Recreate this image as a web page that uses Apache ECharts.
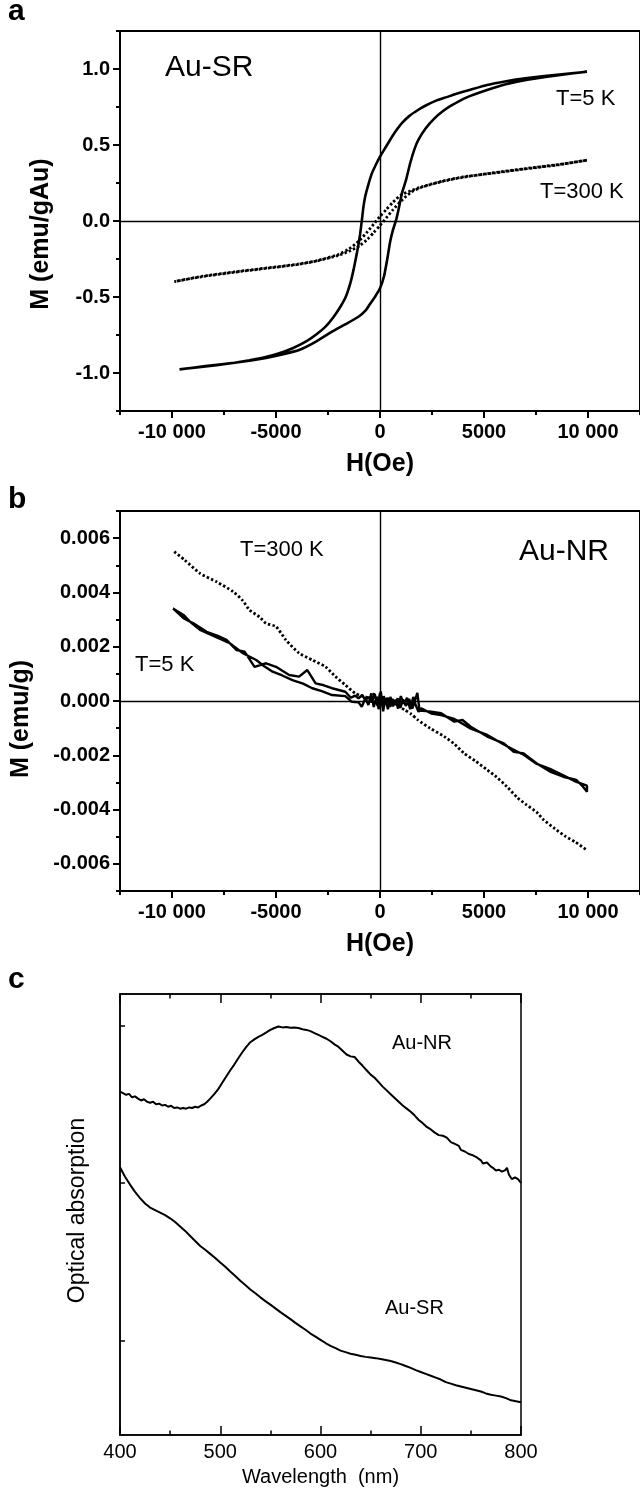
<!DOCTYPE html>
<html>
<head>
<meta charset="utf-8">
<script src="https://cdn.jsdelivr.net/npm/echarts@6/dist/echarts.min.js"></script>
<style>
html,body{margin:0;padding:0;background:#fff;}
#chart{width:640px;height:1488px;}
</style>
</head>
<body>
<div id="chart"></div>
<script>
// ---------- tick values / labels ----------
const hTickVals = [-10000, -5000, 0, 5000, 10000];
const hTickLabels = ['-10 000', '-5000', '0', '5000', '10 000'];
const hMinorVals = [-12500, -7500, -2500, 2500, 7500, 12500];
const mSRTickVals = [-1, -0.5, 0, 0.5, 1];
const mSRTickLabels = ['-1.0', '-0.5', '0.0', '0.5', '1.0'];
const mSRMinorVals = [-1.25, -0.75, -0.25, 0.25, 0.75, 1.25];
const mNRTickVals = [-0.006, -0.004, -0.002, 0, 0.002, 0.004, 0.006];
const mNRTickLabels = ['-0.006', '-0.004', '-0.002', '0.000', '0.002', '0.004', '0.006'];
const mNRMinorVals = [-0.007, -0.005, -0.003, -0.001, 0.001, 0.003, 0.005, 0.007];
const absTickVals = [0.3, 0.8, 1.3];
const zeroLines = [0, 0];

// ---------- panel a: Au-SR, M vs H ----------
const srT5 = [
 [9950,0.982],[8500,0.962],[7090,0.940],[6000,0.918],[5148,0.895],[4300,0.862],[3600,0.834],[3205,0.815],
 [2700,0.792],[2200,0.760],[1843,0.732],[1400,0.690],[1062,0.645],[700,0.580],[483,0.533],[250,0.480],
 [0,0.423],[-200,0.370],[-400,0.310],[-580,0.230],[-714,0.160],[-800,0.090],[-876,0],[-960,-0.090],
 [-1040,-0.160],[-1114,-0.213],[-1270,-0.320],[-1429,-0.410],[-1650,-0.500],[-1905,-0.564],[-2250,-0.635],
 [-2619,-0.695],[-3100,-0.750],[-3571,-0.794],[-4200,-0.837],[-4843,-0.870],[-5500,-0.895],[-6271,-0.916],
 [-7000,-0.932],[-7857,-0.948],[-8700,-0.962],[-9640,-0.976],
 [-8400,-0.955],[-7064,-0.934],[-6200,-0.918],[-5476,-0.901],[-4700,-0.878],[-3890,-0.849],[-3100,-0.795],
 [-2305,-0.728],[-1700,-0.682],[-1033,-0.630],[-700,-0.590],[-500,-0.550],[-238,-0.498],[0,-0.443],
 [200,-0.360],[350,-0.250],[483,-0.140],[620,-0.060],[776,0.007],[900,0.080],[1050,0.180],[1252,0.270],
 [1450,0.380],[1650,0.470],[1843,0.533],[2200,0.610],[2619,0.675],[3000,0.720],[3395,0.757],[4200,0.815],
 [5148,0.862],[6000,0.898],[7090,0.930],[8500,0.958],[9950,0.982]
];
const srT300 = [
 [9950,0.400],[8600,0.370],[7000,0.343],[5500,0.316],[4000,0.290],[3000,0.262],[2000,0.225],[1500,0.200],
 [1000,0.170],[600,0.120],[300,0.075],[0,0.030],[-300,-0.020],[-600,-0.070],[-1000,-0.130],[-1500,-0.185],
 [-2000,-0.220],[-3000,-0.260],[-4000,-0.285],[-5500,-0.310],[-7000,-0.335],[-8600,-0.365],[-9890,-0.399],
 [-8600,-0.367],[-7000,-0.337],[-5500,-0.312],[-4000,-0.287],[-3000,-0.262],[-2000,-0.226],[-1500,-0.200],
 [-1000,-0.165],[-600,-0.120],[-300,-0.075],[0,-0.030],[300,0.020],[600,0.070],[1000,0.130],[1500,0.190],
 [2000,0.222],[3000,0.260],[4000,0.288],[5500,0.318],[7000,0.345],[8600,0.372],[9950,0.400]
];

// ---------- panel b: Au-NR, M vs H ----------
const nrT5 = [
 [-9952,0.00341],[-9448,0.00305],[-8971,0.00286],[-8333,0.00255],[-7800,0.00240],[-7381,0.00225],[-6905,0.00188],
 [-6510,0.00182],[-6033,0.00126],[-5476,0.00139],[-5000,0.00126],[-4367,0.00096],[-3890,0.00090],[-3495,0.00114],
 [-3095,0.00065],[-2700,0.00058],[-2305,0.00047],[-1667,0.00034],[-1400,0.00012],[-1200,0.00020],[-1033,0.00010],
 [-850,0.00022],[-700,0.00002],[-557,0.00015],[-400,-0.00005],[-250,0.00025],[-120,-0.00018],[0,0.00030],
 [80,-0.00020],[180,0.00018],[280,-0.00008],[380,0.00012],[480,-0.00022],[600,0.00008],[720,-0.00015],
 [850,0.00010],[980,-0.00025],[1100,0.00005],[1250,-0.00018],[1400,0.00008],[1550,-0.00028],[1700,0.00006],
 [1795,0.00030],[1900,-0.00035],[2462,-0.00039],[2938,-0.00045],[3571,-0.00076],[3967,-0.00070],[4362,-0.00095],
 [5157,-0.00131],[5952,-0.00156],[6429,-0.00187],[6905,-0.00193],[7538,-0.00230],[8171,-0.00260],[8810,-0.00279],
 [9443,-0.00291],[9762,-0.00316],[9950,-0.00334],
 [9950,-0.00312],[9443,-0.00298],[8810,-0.00274],[8171,-0.00250],[7538,-0.00232],[6905,-0.00198],[6429,-0.00180],
 [5952,-0.00160],[5157,-0.00125],[4362,-0.00102],[3967,-0.00084],[3571,-0.00066],[2938,-0.00052],[2462,-0.00046],
 [1986,-0.00027],[1850,-0.00040],[1700,-0.00012],[1600,0.00015],[1450,-0.00030],[1300,0.00012],[1150,-0.00010],
 [1000,0.00018],[870,-0.00028],[750,0.00005],[620,-0.00020],[500,0.00015],[380,-0.00030],[260,0.00010],
 [150,-0.00038],[40,0.00035],[-60,-0.00030],[-180,0.00012],[-300,-0.00022],[-420,0.00028],[-557,-0.00015],
 [-700,0.00010],[-876,-0.00021],[-1033,-0.00005],[-1352,-0.00003],[-1667,0.00018],[-2305,0.00022],[-2800,0.00036],
 [-3257,0.00047],[-3700,0.00064],[-4210,0.00077],[-4700,0.00094],[-5162,0.00108],[-5600,0.00130],[-5952,0.00151],
 [-6590,0.00176],[-7224,0.00213],[-7900,0.00236],[-8652,0.00262],[-9100,0.00290],[-9448,0.00317],[-9952,0.00341]
];
const nrT300 = [
 [-9890,0.0055],[-9400,0.0052],[-8652,0.0047],[-7857,0.00439],[-7064,0.00403],[-6600,0.0037],[-6271,0.00335],
 [-5800,0.0031],[-5476,0.00286],[-5000,0.00274],[-4524,0.00225],[-3890,0.00176],[-3257,0.00151],[-2619,0.00126],
 [-2143,0.0009],[-1667,0.00059],[-1190,0.00028],[-900,0.0002],[-714,0.00016],[-500,0.0001],[-300,0.00025],
 [-81,0.00004],[100,-0.0001],[300,0.00008],[500,-0.00012],[700,-0.00005],[900,-0.0002],[1190,-0.00033],
 [1500,-0.00048],[1824,-0.0007],[2400,-0.001],[3095,-0.00131],[3600,-0.0016],[4048,-0.00193],[4600,-0.00222],
 [5157,-0.00254],[5600,-0.0028],[6110,-0.00316],[6600,-0.00356],[7000,-0.0038],[7538,-0.0041],[7870,-0.00438],
 [8400,-0.0047],[8900,-0.00498],[9400,-0.0052],[9950,-0.0055]
];

// ---------- panel c: optical absorption ----------
const absNR = [
 [400,1.090],[403,1.085],[406,1.080],[409,1.083],[412,1.072],[415,1.075],[418,1.068],[421,1.062],[424,1.066],
 [427,1.058],[430,1.055],[433,1.058],[436,1.050],[439,1.052],[442,1.046],[445,1.048],[448,1.042],[451,1.045],
 [454,1.038],[457,1.040],[460,1.036],[463,1.038],[466,1.036],[469,1.040],[472,1.038],[475,1.042],[478,1.040],
 [481,1.046],[484,1.050],[487,1.058],[490,1.068],[494,1.082],[498,1.098],[502,1.118],[506,1.138],[510,1.158],
 [514,1.176],[518,1.196],[522,1.215],[526,1.232],[530,1.247],[534,1.256],[538,1.264],[542,1.270],[546,1.278],
 [550,1.286],[554,1.292],[558,1.297],[562,1.294],[566,1.295],[570,1.293],[574,1.294],[578,1.292],[582,1.288],
 [586,1.286],[590,1.282],[594,1.276],[598,1.270],[602,1.264],[606,1.258],[610,1.250],[614,1.240],[618,1.232],
 [622,1.220],[626,1.208],[630,1.202],[634,1.200],[638,1.185],[642,1.172],[646,1.158],[650,1.144],[654,1.134],
 [658,1.120],[662,1.106],[666,1.094],[670,1.082],[674,1.070],[678,1.058],[682,1.046],[686,1.036],[690,1.026],
 [694,1.014],[698,1.000],[702,0.990],[706,0.978],[710,0.970],[714,0.960],[718,0.952],[722,0.950],[726,0.944],
 [730,0.930],[734,0.924],[738,0.918],[740,0.905],[744,0.900],[748,0.892],[752,0.888],[756,0.881],[760,0.872],
 [762,0.862],[766,0.865],[770,0.852],[772,0.848],[775,0.840],[778,0.842],[781,0.836],[784,0.840],[786,0.848],
 [788,0.826],[791,0.812],[794,0.818],[797,0.812],[800,0.800]
];
const absSR = [
 [400,0.850],[405,0.820],[410,0.795],[415,0.772],[420,0.752],[425,0.735],[430,0.722],[435,0.714],[440,0.706],
 [445,0.698],[450,0.688],[455,0.676],[460,0.662],[465,0.648],[470,0.632],[475,0.616],[480,0.600],[485,0.588],
 [490,0.575],[495,0.562],[500,0.548],[505,0.534],[510,0.519],[515,0.505],[520,0.490],[525,0.476],[530,0.462],
 [535,0.450],[540,0.437],[545,0.425],[550,0.414],[555,0.402],[560,0.390],[565,0.379],[570,0.368],[575,0.356],
 [580,0.345],[585,0.334],[590,0.322],[595,0.312],[600,0.302],[605,0.292],[610,0.283],[615,0.276],[620,0.268],
 [625,0.263],[630,0.258],[635,0.255],[640,0.251],[645,0.248],[650,0.246],[655,0.244],[660,0.241],[665,0.238],
 [670,0.235],[675,0.230],[680,0.225],[685,0.219],[690,0.213],[695,0.206],[700,0.200],[705,0.194],[710,0.188],
 [715,0.182],[720,0.176],[725,0.168],[730,0.163],[735,0.158],[740,0.154],[745,0.150],[750,0.146],[755,0.142],
 [760,0.138],[765,0.132],[770,0.128],[775,0.125],[780,0.122],[785,0.117],[790,0.110],[795,0.107],[800,0.104]
];

// ---------- helpers ----------
const FONT = '"Liberation Sans", Arial, Helvetica, sans-serif';
function labeler(vals, labels) {
  return function (v) {
    const i = vals.findIndex(t => Math.abs(t - v) < 1e-9);
    return i >= 0 ? labels[i] : '';
  };
}
const black = '#000';
function hAxisMajor(grid, name) {
  return {
    type: 'value', gridIndex: grid, position: 'bottom', min: -12500, max: 12500,
    name: name, nameLocation: 'middle', nameGap: 41,
    nameTextStyle: { fontFamily: FONT, fontWeight: 'bold', fontSize: 25, color: black },
    axisLine: { show: true, onZero: false, lineStyle: { color: black, width: 2 } },
    axisTick: { show: true, customValues: hTickVals, length: 7, lineStyle: { color: black, width: 2 } },
    axisLabel: { show: true, customValues: hTickVals, formatter: labeler(hTickVals, hTickLabels), margin: 11,
      fontFamily: FONT, fontWeight: 'bold', fontSize: 20, color: black },
    splitLine: { show: false }
  };
}
function hAxisMinor(grid) {
  return {
    type: 'value', gridIndex: grid, position: 'bottom', min: -12500, max: 12500,
    axisLine: { show: false, onZero: false },
    axisTick: { show: true, customValues: hMinorVals, length: 4, lineStyle: { color: black, width: 2 } },
    axisLabel: { show: false }, splitLine: { show: false }
  };
}
function mAxisMajor(grid, name, lim, vals, labels, gap, shift) {
  return {
    type: 'value', gridIndex: grid, position: 'left', min: -lim, max: lim,
    name: name, nameLocation: 'middle', nameGap: gap, nameRotate: 90,
    nameTextStyle: { fontFamily: FONT, fontWeight: 'bold', fontSize: 25, color: black, padding: [0, shift, 0, 0] },
    axisLine: { show: true, onZero: false, lineStyle: { color: black, width: 2 } },
    axisTick: { show: true, customValues: vals, length: 7, lineStyle: { color: black, width: 2 } },
    axisLabel: { show: true, customValues: vals, formatter: labeler(vals, labels), margin: 10,
      fontFamily: FONT, fontWeight: 'bold', fontSize: 20, color: black },
    splitLine: { show: false }
  };
}
function mAxisMinor(grid, lim, vals) {
  return {
    type: 'value', gridIndex: grid, position: 'left', min: -lim, max: lim,
    axisLine: { show: false, onZero: false },
    axisTick: { show: true, customValues: vals, length: 4, lineStyle: { color: black, width: 2 } },
    axisLabel: { show: false }, splitLine: { show: false }
  };
}
const zeroMark = {
  silent: true, symbol: 'none', animation: false,
  label: { show: false },
  lineStyle: { color: black, width: 1.4, type: 'solid' },
  emphasis: { disabled: true },
  data: [{ xAxis: zeroLines[0] }, { yAxis: zeroLines[1] }]
};
function solid(x, y, data, w, smooth, mark) {
  const s = { type: 'line', xAxisIndex: x, yAxisIndex: y, data: data, showSymbol: false, symbol: 'none',
    smooth: smooth, lineStyle: { color: black, width: w, type: 'solid' }, silent: true, animation: false, z: 3 };
  if (mark) s.markLine = zeroMark;
  return s;
}
function dotted(x, y, data) {
  return { type: 'line', xAxisIndex: x, yAxisIndex: y, data: data, showSymbol: false, symbol: 'none',
    smooth: 0.2, lineStyle: { color: black, width: 2.8, type: [2.4, 2.2], cap: 'butt' }, silent: true, animation: false, z: 3 };
}
function txt(text, x, y, size, bold, align) {
  return { type: 'text', x: x, y: y, silent: true, z: 10,
    style: { text: text, fill: black, fontFamily: FONT, fontSize: size, fontWeight: bold ? 'bold' : 'normal',
      align: align || 'left', verticalAlign: 'middle' } };
}

const gridA = { left: 120, top: 31, width: 524, height: 380 };
const gridB = { left: 120, top: 511, width: 524, height: 380 };
const gridC = { left: 120, top: 994, width: 401, height: 441 };
function g(r, show) {
  return Object.assign({}, r, { show: show, borderColor: black, borderWidth: show ? 2 : 0, backgroundColor: 'transparent', containLabel: false });
}

const option = {
  backgroundColor: '#fff',
  animation: false,
  grid: [g(gridA, true), g(gridA, false), g(gridB, true), g(gridB, false),
         Object.assign(g(gridC, true), { borderWidth: 1.5 })],
  xAxis: [
    hAxisMajor(0, 'H(Oe)'), hAxisMinor(1), hAxisMajor(2, 'H(Oe)'), hAxisMinor(3),
    { type: 'value', gridIndex: 4, position: 'bottom', min: 400, max: 800, interval: 100,
      name: 'Wavelength  (nm)', nameLocation: 'middle', nameGap: 32,
      nameTextStyle: { fontFamily: FONT, fontSize: 20, color: black },
      axisLine: { show: true, onZero: false, lineStyle: { color: black, width: 1.5 } },
      axisTick: { show: true, inside: true, length: 9, lineStyle: { color: black, width: 1.5 } },
      minorTick: { show: true, splitNumber: 2, length: 4.5, lineStyle: { color: black, width: 1.5 } },
      axisLabel: { show: true, margin: 7, fontFamily: FONT, fontSize: 20, color: black },
      splitLine: { show: false }, minorSplitLine: { show: false } },
    { type: 'value', gridIndex: 4, position: 'top', min: 400, max: 800, interval: 100,
      axisLine: { show: true, onZero: false, lineStyle: { color: black, width: 1.5 } },
      axisTick: { show: true, inside: true, length: 9, lineStyle: { color: black, width: 1.5 } },
      minorTick: { show: true, splitNumber: 2, length: 4.5, lineStyle: { color: black, width: 1.5 } },
      axisLabel: { show: false }, splitLine: { show: false } }
  ],
  yAxis: [
    mAxisMajor(0, 'M (emu/gAu)', 1.25, mSRTickVals, mSRTickLabels, 66, 26),
    mAxisMinor(1, 1.25, mSRMinorVals),
    mAxisMajor(2, 'M (emu/g)', 0.007, mNRTickVals, mNRTickLabels, 86, 36),
    mAxisMinor(3, 0.007, mNRMinorVals),
    { type: 'value', gridIndex: 4, position: 'left', min: 0, max: 1.4,
      name: 'Optical absorption', nameLocation: 'middle', nameGap: 31, nameRotate: 90,
      nameTextStyle: { fontFamily: FONT, fontSize: 23, color: black, padding: [0, 0, 0, 8] },
      axisLine: { show: true, onZero: false, lineStyle: { color: black, width: 1.5 } },
      axisTick: { show: true, inside: true, customValues: absTickVals, length: 5, lineStyle: { color: black, width: 1.5 } },
      axisLabel: { show: false }, splitLine: { show: false } }
  ],
  series: [
    solid(0, 0, srT5, 2.6, 0.15, true),
    dotted(0, 0, srT300),
    solid(2, 2, nrT5, 2.4, false, true),
    dotted(2, 2, nrT300),
    solid(4, 4, absNR, 2, false, false),
    solid(4, 4, absSR, 2, false, false)
  ],
  graphic: [
    txt('a', 8, 12, 30, true),
    txt('b', 8, 500, 30, true),
    txt('c', 8, 980, 30, true),
    txt('Au-SR', 165, 68, 30, false),
    txt('T=5 K', 556, 99, 22, false),
    txt('T=300 K', 540, 192, 22, false),
    txt('T=300 K', 240, 550, 22, false),
    txt('T=5 K', 135, 665, 22, false),
    txt('Au-NR', 519, 552, 30, false),
    txt('Au-NR', 392, 1043, 20, false),
    txt('Au-SR', 385, 1308, 20, false)
  ]
};

const chart = echarts.init(document.getElementById('chart'), null, { renderer: 'canvas', width: 640, height: 1488 });
chart.setOption(option);
</script>
</body>
</html>
